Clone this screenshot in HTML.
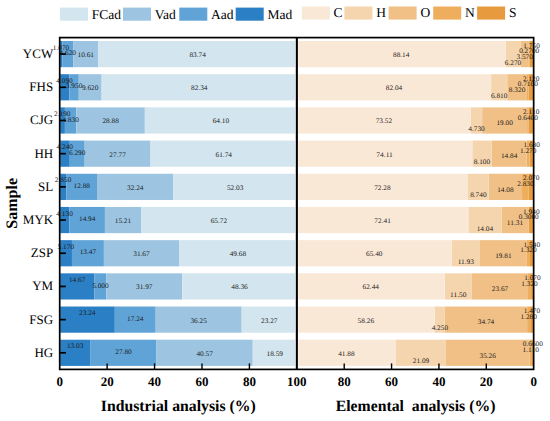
<!DOCTYPE html>
<html><head><meta charset="utf-8"><style>
html,body{margin:0;padding:0;background:#fff;width:550px;height:421px;overflow:hidden;position:relative}
text{font-family:"Liberation Serif",serif;fill:#000;text-rendering:geometricPrecision}
.d{font-size:7.0px;text-anchor:middle;fill:#1a1a1a;text-rendering:geometricPrecision}
.yl{font-size:13px;text-anchor:end}
.xl{font-size:13px;font-weight:bold;text-anchor:middle;text-rendering:geometricPrecision}
.ti{font-size:15.75px;font-weight:bold;text-anchor:middle}
.lg{font-size:13.5px}
</style></head><body>
<svg width="550" height="421" viewBox="0 0 550 421" style="position:absolute;left:0;top:0;display:block">
<rect x="60.20" y="41.00" width="2.04" height="26.2" fill="#2b7fc4"/>
<rect x="62.24" y="41.00" width="10.96" height="26.2" fill="#60a3d7"/>
<rect x="73.19" y="41.00" width="25.16" height="26.2" fill="#9dc5e1"/>
<rect x="98.36" y="41.00" width="196.74" height="26.2" fill="#d3e5ee"/>
<rect x="529.51" y="41.00" width="3.64" height="26.2" fill="#e89b3e"/>
<rect x="528.87" y="41.00" width="0.64" height="26.2" fill="#eeae5e"/>
<rect x="520.41" y="41.00" width="8.45" height="26.2" fill="#f0c086"/>
<rect x="505.57" y="41.00" width="14.85" height="26.2" fill="#f5d5ae"/>
<rect x="298.35" y="41.00" width="207.22" height="26.2" fill="#fae8d7"/>
<rect x="60.20" y="74.19" width="9.20" height="26.2" fill="#2b7fc4"/>
<rect x="69.40" y="74.19" width="9.37" height="26.2" fill="#60a3d7"/>
<rect x="78.77" y="74.19" width="22.81" height="26.2" fill="#9dc5e1"/>
<rect x="101.58" y="74.19" width="193.52" height="26.2" fill="#d3e5ee"/>
<rect x="528.63" y="74.19" width="4.52" height="26.2" fill="#e89b3e"/>
<rect x="526.95" y="74.19" width="1.68" height="26.2" fill="#eeae5e"/>
<rect x="507.25" y="74.19" width="19.70" height="26.2" fill="#f0c086"/>
<rect x="491.12" y="74.19" width="16.13" height="26.2" fill="#f5d5ae"/>
<rect x="298.35" y="74.19" width="192.77" height="26.2" fill="#fae8d7"/>
<rect x="60.20" y="107.38" width="4.69" height="26.2" fill="#2b7fc4"/>
<rect x="64.89" y="107.38" width="11.45" height="26.2" fill="#60a3d7"/>
<rect x="76.35" y="107.38" width="68.49" height="26.2" fill="#9dc5e1"/>
<rect x="144.84" y="107.38" width="150.26" height="26.2" fill="#d3e5ee"/>
<rect x="528.65" y="107.38" width="4.50" height="26.2" fill="#e89b3e"/>
<rect x="527.14" y="107.38" width="1.52" height="26.2" fill="#eeae5e"/>
<rect x="482.15" y="107.38" width="44.99" height="26.2" fill="#f0c086"/>
<rect x="470.95" y="107.38" width="11.20" height="26.2" fill="#f5d5ae"/>
<rect x="298.35" y="107.38" width="172.60" height="26.2" fill="#fae8d7"/>
<rect x="60.20" y="140.57" width="9.56" height="26.2" fill="#2b7fc4"/>
<rect x="69.76" y="140.57" width="14.92" height="26.2" fill="#60a3d7"/>
<rect x="84.67" y="140.57" width="65.86" height="26.2" fill="#9dc5e1"/>
<rect x="150.53" y="140.57" width="144.57" height="26.2" fill="#d3e5ee"/>
<rect x="529.67" y="140.57" width="3.48" height="26.2" fill="#e89b3e"/>
<rect x="526.66" y="140.57" width="3.01" height="26.2" fill="#eeae5e"/>
<rect x="491.52" y="140.57" width="35.14" height="26.2" fill="#f0c086"/>
<rect x="472.34" y="140.57" width="19.18" height="26.2" fill="#f5d5ae"/>
<rect x="298.35" y="140.57" width="173.99" height="26.2" fill="#fae8d7"/>
<rect x="60.20" y="173.76" width="6.26" height="26.2" fill="#2b7fc4"/>
<rect x="66.46" y="173.76" width="30.54" height="26.2" fill="#60a3d7"/>
<rect x="97.00" y="173.76" width="76.46" height="26.2" fill="#9dc5e1"/>
<rect x="173.46" y="173.76" width="121.64" height="26.2" fill="#d3e5ee"/>
<rect x="528.75" y="173.76" width="4.40" height="26.2" fill="#e89b3e"/>
<rect x="522.05" y="173.76" width="6.70" height="26.2" fill="#eeae5e"/>
<rect x="488.71" y="173.76" width="33.34" height="26.2" fill="#f0c086"/>
<rect x="468.01" y="173.76" width="20.70" height="26.2" fill="#f5d5ae"/>
<rect x="298.35" y="173.76" width="169.66" height="26.2" fill="#fae8d7"/>
<rect x="60.20" y="206.95" width="9.29" height="26.2" fill="#2b7fc4"/>
<rect x="69.49" y="206.95" width="35.43" height="26.2" fill="#60a3d7"/>
<rect x="104.92" y="206.95" width="36.07" height="26.2" fill="#9dc5e1"/>
<rect x="141.00" y="206.95" width="154.10" height="26.2" fill="#d3e5ee"/>
<rect x="529.06" y="206.95" width="4.09" height="26.2" fill="#e89b3e"/>
<rect x="528.35" y="206.95" width="0.71" height="26.2" fill="#eeae5e"/>
<rect x="501.56" y="206.95" width="26.78" height="26.2" fill="#f0c086"/>
<rect x="468.32" y="206.95" width="33.25" height="26.2" fill="#f5d5ae"/>
<rect x="298.35" y="206.95" width="169.97" height="26.2" fill="#fae8d7"/>
<rect x="60.20" y="240.14" width="11.76" height="26.2" fill="#2b7fc4"/>
<rect x="71.96" y="240.14" width="31.94" height="26.2" fill="#60a3d7"/>
<rect x="103.90" y="240.14" width="75.11" height="26.2" fill="#9dc5e1"/>
<rect x="179.01" y="240.14" width="116.09" height="26.2" fill="#d3e5ee"/>
<rect x="530.00" y="240.14" width="3.15" height="26.2" fill="#e89b3e"/>
<rect x="526.88" y="240.14" width="3.13" height="26.2" fill="#eeae5e"/>
<rect x="479.97" y="240.14" width="46.91" height="26.2" fill="#f0c086"/>
<rect x="451.72" y="240.14" width="28.25" height="26.2" fill="#f5d5ae"/>
<rect x="298.35" y="240.14" width="153.37" height="26.2" fill="#fae8d7"/>
<rect x="60.20" y="273.33" width="34.29" height="26.2" fill="#2b7fc4"/>
<rect x="94.49" y="273.33" width="11.86" height="26.2" fill="#60a3d7"/>
<rect x="106.35" y="273.33" width="75.82" height="26.2" fill="#9dc5e1"/>
<rect x="182.16" y="273.33" width="112.94" height="26.2" fill="#d3e5ee"/>
<rect x="531.12" y="273.33" width="2.03" height="26.2" fill="#e89b3e"/>
<rect x="527.99" y="273.33" width="3.13" height="26.2" fill="#eeae5e"/>
<rect x="471.94" y="273.33" width="56.05" height="26.2" fill="#f0c086"/>
<rect x="444.71" y="273.33" width="27.23" height="26.2" fill="#f5d5ae"/>
<rect x="298.35" y="273.33" width="146.36" height="26.2" fill="#fae8d7"/>
<rect x="60.20" y="306.52" width="54.61" height="26.2" fill="#2b7fc4"/>
<rect x="114.81" y="306.52" width="40.88" height="26.2" fill="#60a3d7"/>
<rect x="155.70" y="306.52" width="85.97" height="26.2" fill="#9dc5e1"/>
<rect x="241.67" y="306.52" width="53.43" height="26.2" fill="#d3e5ee"/>
<rect x="530.17" y="306.52" width="2.98" height="26.2" fill="#e89b3e"/>
<rect x="527.14" y="306.52" width="3.03" height="26.2" fill="#eeae5e"/>
<rect x="444.87" y="306.52" width="82.26" height="26.2" fill="#f0c086"/>
<rect x="434.81" y="306.52" width="10.06" height="26.2" fill="#f5d5ae"/>
<rect x="298.35" y="306.52" width="136.46" height="26.2" fill="#fae8d7"/>
<rect x="60.20" y="339.71" width="30.40" height="26.2" fill="#2b7fc4"/>
<rect x="90.60" y="339.71" width="65.93" height="26.2" fill="#60a3d7"/>
<rect x="156.53" y="339.71" width="96.21" height="26.2" fill="#9dc5e1"/>
<rect x="252.74" y="339.71" width="42.36" height="26.2" fill="#d3e5ee"/>
<rect x="532.09" y="339.71" width="1.06" height="26.2" fill="#e89b3e"/>
<rect x="529.46" y="339.71" width="2.63" height="26.2" fill="#eeae5e"/>
<rect x="445.96" y="339.71" width="83.50" height="26.2" fill="#f0c086"/>
<rect x="396.02" y="339.71" width="49.94" height="26.2" fill="#f5d5ae"/>
<rect x="298.35" y="339.71" width="97.67" height="26.2" fill="#fae8d7"/>
<text x="60.97" y="49.61" class="d" textLength="16.43" lengthAdjust="spacingAndGlyphs">1.070</text>
<text x="67.72" y="55.21" class="d" textLength="16.43" lengthAdjust="spacingAndGlyphs">4.620</text>
<text x="85.77" y="57.11" class="d" textLength="16.43" lengthAdjust="spacingAndGlyphs">10.61</text>
<text x="197.65" y="57.01" class="d" textLength="16.43" lengthAdjust="spacingAndGlyphs">83.74</text>
<text x="531.58" y="47.61" class="d" textLength="16.43" lengthAdjust="spacingAndGlyphs">1.750</text>
<text x="529.19" y="53.21" class="d" textLength="20.07" lengthAdjust="spacingAndGlyphs">0.2700</text>
<text x="524.64" y="58.91" class="d" textLength="16.43" lengthAdjust="spacingAndGlyphs">3.570</text>
<text x="512.99" y="64.61" class="d" textLength="16.43" lengthAdjust="spacingAndGlyphs">6.270</text>
<text x="401.21" y="57.01" class="d" textLength="16.43" lengthAdjust="spacingAndGlyphs">88.14</text>
<text x="64.55" y="82.80" class="d" textLength="16.43" lengthAdjust="spacingAndGlyphs">4.090</text>
<text x="74.08" y="88.40" class="d" textLength="16.43" lengthAdjust="spacingAndGlyphs">3.950</text>
<text x="90.17" y="90.30" class="d" textLength="16.43" lengthAdjust="spacingAndGlyphs">9.620</text>
<text x="199.22" y="90.20" class="d" textLength="16.43" lengthAdjust="spacingAndGlyphs">82.34</text>
<text x="531.14" y="80.80" class="d" textLength="16.43" lengthAdjust="spacingAndGlyphs">2.120</text>
<text x="527.79" y="86.40" class="d" textLength="20.07" lengthAdjust="spacingAndGlyphs">0.7100</text>
<text x="517.10" y="92.10" class="d" textLength="16.43" lengthAdjust="spacingAndGlyphs">8.320</text>
<text x="499.18" y="97.80" class="d" textLength="16.43" lengthAdjust="spacingAndGlyphs">6.810</text>
<text x="393.99" y="90.20" class="d" textLength="16.43" lengthAdjust="spacingAndGlyphs">82.04</text>
<text x="62.30" y="115.99" class="d" textLength="16.43" lengthAdjust="spacingAndGlyphs">2.190</text>
<text x="70.62" y="121.59" class="d" textLength="16.43" lengthAdjust="spacingAndGlyphs">4.830</text>
<text x="110.59" y="123.49" class="d" textLength="16.43" lengthAdjust="spacingAndGlyphs">28.88</text>
<text x="220.84" y="123.39" class="d" textLength="16.43" lengthAdjust="spacingAndGlyphs">64.10</text>
<text x="531.15" y="113.99" class="d" textLength="16.43" lengthAdjust="spacingAndGlyphs">2.110</text>
<text x="527.90" y="119.59" class="d" textLength="20.07" lengthAdjust="spacingAndGlyphs">0.6400</text>
<text x="504.64" y="125.29" class="d" textLength="16.43" lengthAdjust="spacingAndGlyphs">19.00</text>
<text x="476.55" y="130.99" class="d" textLength="16.43" lengthAdjust="spacingAndGlyphs">4.730</text>
<text x="383.90" y="123.39" class="d" textLength="16.43" lengthAdjust="spacingAndGlyphs">73.52</text>
<text x="64.73" y="149.18" class="d" textLength="16.43" lengthAdjust="spacingAndGlyphs">4.240</text>
<text x="77.21" y="154.78" class="d" textLength="16.43" lengthAdjust="spacingAndGlyphs">6.290</text>
<text x="117.60" y="156.68" class="d" textLength="16.43" lengthAdjust="spacingAndGlyphs">27.77</text>
<text x="223.74" y="156.58" class="d" textLength="16.43" lengthAdjust="spacingAndGlyphs">61.74</text>
<text x="531.66" y="147.18" class="d" textLength="16.43" lengthAdjust="spacingAndGlyphs">1.680</text>
<text x="528.17" y="152.78" class="d" textLength="16.43" lengthAdjust="spacingAndGlyphs">1.270</text>
<text x="509.09" y="158.48" class="d" textLength="16.43" lengthAdjust="spacingAndGlyphs">14.84</text>
<text x="481.93" y="164.18" class="d" textLength="16.43" lengthAdjust="spacingAndGlyphs">8.100</text>
<text x="384.60" y="156.58" class="d" textLength="16.43" lengthAdjust="spacingAndGlyphs">74.11</text>
<text x="63.08" y="182.37" class="d" textLength="16.43" lengthAdjust="spacingAndGlyphs">2.850</text>
<text x="81.73" y="187.97" class="d" textLength="16.43" lengthAdjust="spacingAndGlyphs">12.88</text>
<text x="135.23" y="189.87" class="d" textLength="16.43" lengthAdjust="spacingAndGlyphs">32.24</text>
<text x="235.16" y="189.77" class="d" textLength="16.43" lengthAdjust="spacingAndGlyphs">52.03</text>
<text x="531.20" y="180.37" class="d" textLength="16.43" lengthAdjust="spacingAndGlyphs">2.070</text>
<text x="525.40" y="185.97" class="d" textLength="16.43" lengthAdjust="spacingAndGlyphs">2.830</text>
<text x="505.38" y="191.67" class="d" textLength="16.43" lengthAdjust="spacingAndGlyphs">14.08</text>
<text x="478.36" y="197.37" class="d" textLength="16.43" lengthAdjust="spacingAndGlyphs">8.740</text>
<text x="382.43" y="189.77" class="d" textLength="16.43" lengthAdjust="spacingAndGlyphs">72.28</text>
<text x="64.60" y="215.56" class="d" textLength="16.43" lengthAdjust="spacingAndGlyphs">4.130</text>
<text x="87.21" y="221.16" class="d" textLength="16.43" lengthAdjust="spacingAndGlyphs">14.94</text>
<text x="122.96" y="223.06" class="d" textLength="16.43" lengthAdjust="spacingAndGlyphs">15.21</text>
<text x="218.92" y="222.96" class="d" textLength="16.43" lengthAdjust="spacingAndGlyphs">65.72</text>
<text x="531.35" y="213.56" class="d" textLength="16.43" lengthAdjust="spacingAndGlyphs">1.940</text>
<text x="528.70" y="219.16" class="d" textLength="20.07" lengthAdjust="spacingAndGlyphs">0.3000</text>
<text x="514.95" y="224.86" class="d" textLength="16.43" lengthAdjust="spacingAndGlyphs">11.31</text>
<text x="484.94" y="230.56" class="d" textLength="16.43" lengthAdjust="spacingAndGlyphs">14.04</text>
<text x="382.58" y="222.96" class="d" textLength="16.43" lengthAdjust="spacingAndGlyphs">72.41</text>
<text x="65.83" y="248.75" class="d" textLength="16.43" lengthAdjust="spacingAndGlyphs">5.170</text>
<text x="87.93" y="254.35" class="d" textLength="16.43" lengthAdjust="spacingAndGlyphs">13.47</text>
<text x="141.46" y="256.25" class="d" textLength="16.43" lengthAdjust="spacingAndGlyphs">31.67</text>
<text x="237.92" y="256.15" class="d" textLength="16.43" lengthAdjust="spacingAndGlyphs">49.68</text>
<text x="531.83" y="246.75" class="d" textLength="16.43" lengthAdjust="spacingAndGlyphs">1.540</text>
<text x="528.44" y="252.35" class="d" textLength="16.43" lengthAdjust="spacingAndGlyphs">1.320</text>
<text x="503.42" y="258.05" class="d" textLength="16.43" lengthAdjust="spacingAndGlyphs">19.81</text>
<text x="465.84" y="263.75" class="d" textLength="16.43" lengthAdjust="spacingAndGlyphs">11.93</text>
<text x="374.28" y="256.15" class="d" textLength="16.43" lengthAdjust="spacingAndGlyphs">65.40</text>
<text x="77.09" y="281.94" class="d" textLength="16.43" lengthAdjust="spacingAndGlyphs">14.67</text>
<text x="100.42" y="287.54" class="d" textLength="16.43" lengthAdjust="spacingAndGlyphs">5.000</text>
<text x="144.26" y="289.44" class="d" textLength="16.43" lengthAdjust="spacingAndGlyphs">31.97</text>
<text x="239.51" y="289.34" class="d" textLength="16.43" lengthAdjust="spacingAndGlyphs">48.36</text>
<text x="532.38" y="279.94" class="d" textLength="16.43" lengthAdjust="spacingAndGlyphs">1.070</text>
<text x="529.55" y="285.54" class="d" textLength="16.43" lengthAdjust="spacingAndGlyphs">1.320</text>
<text x="499.97" y="291.24" class="d" textLength="16.43" lengthAdjust="spacingAndGlyphs">23.67</text>
<text x="458.32" y="296.94" class="d" textLength="16.43" lengthAdjust="spacingAndGlyphs">11.50</text>
<text x="370.78" y="289.34" class="d" textLength="16.43" lengthAdjust="spacingAndGlyphs">62.44</text>
<text x="87.26" y="315.13" class="d" textLength="16.43" lengthAdjust="spacingAndGlyphs">23.24</text>
<text x="135.26" y="320.73" class="d" textLength="16.43" lengthAdjust="spacingAndGlyphs">17.24</text>
<text x="198.68" y="322.63" class="d" textLength="16.43" lengthAdjust="spacingAndGlyphs">36.25</text>
<text x="269.26" y="322.53" class="d" textLength="16.43" lengthAdjust="spacingAndGlyphs">23.27</text>
<text x="531.91" y="313.13" class="d" textLength="16.43" lengthAdjust="spacingAndGlyphs">1.470</text>
<text x="528.65" y="318.73" class="d" textLength="16.43" lengthAdjust="spacingAndGlyphs">1.280</text>
<text x="486.01" y="324.43" class="d" textLength="16.43" lengthAdjust="spacingAndGlyphs">34.74</text>
<text x="439.84" y="330.13" class="d" textLength="16.43" lengthAdjust="spacingAndGlyphs">4.250</text>
<text x="365.83" y="322.53" class="d" textLength="16.43" lengthAdjust="spacingAndGlyphs">58.26</text>
<text x="75.15" y="348.32" class="d" textLength="16.43" lengthAdjust="spacingAndGlyphs">13.03</text>
<text x="123.56" y="353.92" class="d" textLength="16.43" lengthAdjust="spacingAndGlyphs">27.80</text>
<text x="204.63" y="355.82" class="d" textLength="16.43" lengthAdjust="spacingAndGlyphs">40.57</text>
<text x="274.78" y="355.72" class="d" textLength="16.43" lengthAdjust="spacingAndGlyphs">18.59</text>
<text x="532.87" y="346.32" class="d" textLength="20.07" lengthAdjust="spacingAndGlyphs">0.6600</text>
<text x="530.77" y="351.92" class="d" textLength="16.43" lengthAdjust="spacingAndGlyphs">1.110</text>
<text x="487.71" y="357.62" class="d" textLength="16.43" lengthAdjust="spacingAndGlyphs">35.26</text>
<text x="420.99" y="363.32" class="d" textLength="16.43" lengthAdjust="spacingAndGlyphs">21.09</text>
<text x="346.44" y="355.72" class="d" textLength="16.43" lengthAdjust="spacingAndGlyphs">41.88</text>
<rect x="59.7" y="37.6" width="473.95" height="331.80" fill="none" stroke="#000" stroke-width="1.7"/>
<line x1="296.85" y1="37.6" x2="296.85" y2="369.4" stroke="#000" stroke-width="2.1"/>
<line x1="59.7" y1="54.10" x2="65.90" y2="54.10" stroke="#000" stroke-width="1.7"/>
<text x="53.20" y="58.00" class="yl">YCW</text>
<line x1="59.7" y1="87.29" x2="65.90" y2="87.29" stroke="#000" stroke-width="1.7"/>
<text x="53.20" y="91.19" class="yl">FHS</text>
<line x1="59.7" y1="120.48" x2="65.90" y2="120.48" stroke="#000" stroke-width="1.7"/>
<text x="53.20" y="124.38" class="yl">CJG</text>
<line x1="59.7" y1="153.67" x2="65.90" y2="153.67" stroke="#000" stroke-width="1.7"/>
<text x="53.20" y="157.57" class="yl">HH</text>
<line x1="59.7" y1="186.86" x2="65.90" y2="186.86" stroke="#000" stroke-width="1.7"/>
<text x="53.20" y="190.76" class="yl">SL</text>
<line x1="59.7" y1="220.05" x2="65.90" y2="220.05" stroke="#000" stroke-width="1.7"/>
<text x="53.20" y="223.95" class="yl">MYK</text>
<line x1="59.7" y1="253.24" x2="65.90" y2="253.24" stroke="#000" stroke-width="1.7"/>
<text x="53.20" y="257.14" class="yl">ZSP</text>
<line x1="59.7" y1="286.43" x2="65.90" y2="286.43" stroke="#000" stroke-width="1.7"/>
<text x="53.20" y="290.33" class="yl">YM</text>
<line x1="59.7" y1="319.62" x2="65.90" y2="319.62" stroke="#000" stroke-width="1.7"/>
<text x="53.20" y="323.52" class="yl">FSG</text>
<line x1="59.7" y1="352.81" x2="65.90" y2="352.81" stroke="#000" stroke-width="1.7"/>
<text x="53.20" y="356.71" class="yl">HG</text>
<text x="59.70" y="386.2" class="xl">0</text>
<text x="533.65" y="386.2" class="xl">0</text>
<line x1="107.13" y1="369.4" x2="107.13" y2="363.40" stroke="#000" stroke-width="1.4"/>
<text x="107.13" y="386.2" class="xl">20</text>
<line x1="486.29" y1="369.4" x2="486.29" y2="363.40" stroke="#000" stroke-width="1.4"/>
<text x="486.29" y="386.2" class="xl">20</text>
<line x1="154.56" y1="369.4" x2="154.56" y2="363.40" stroke="#000" stroke-width="1.4"/>
<text x="154.56" y="386.2" class="xl">40</text>
<line x1="438.93" y1="369.4" x2="438.93" y2="363.40" stroke="#000" stroke-width="1.4"/>
<text x="438.93" y="386.2" class="xl">40</text>
<line x1="201.99" y1="369.4" x2="201.99" y2="363.40" stroke="#000" stroke-width="1.4"/>
<text x="201.99" y="386.2" class="xl">60</text>
<line x1="391.57" y1="369.4" x2="391.57" y2="363.40" stroke="#000" stroke-width="1.4"/>
<text x="391.57" y="386.2" class="xl">60</text>
<line x1="249.42" y1="369.4" x2="249.42" y2="363.40" stroke="#000" stroke-width="1.4"/>
<text x="249.42" y="386.2" class="xl">80</text>
<line x1="344.21" y1="369.4" x2="344.21" y2="363.40" stroke="#000" stroke-width="1.4"/>
<text x="344.21" y="386.2" class="xl">80</text>
<text x="296.85" y="386.2" class="xl">100</text>
<text x="178.28" y="410.8" class="ti">Industrial analysis (%)</text>
<text x="415.55" y="410.8" class="ti" xml:space="preserve">Elemental  analysis (%)</text>
<text transform="translate(16.9,203.3) rotate(-90)" x="0" y="0" class="ti" style="font-size:16px">Sample</text>
<rect x="60.0" y="7.60" width="28" height="13.1" fill="#d3e5ee"/>
<text x="91.80" y="18.70" class="lg">FCad</text>
<rect x="123.0" y="7.60" width="28" height="13.1" fill="#9dc5e1"/>
<text x="154.80" y="18.70" class="lg">Vad</text>
<rect x="179.3" y="7.60" width="28" height="13.1" fill="#60a3d7"/>
<text x="211.10" y="18.70" class="lg">Aad</text>
<rect x="235.7" y="7.60" width="28" height="13.1" fill="#2b7fc4"/>
<text x="267.50" y="18.70" class="lg">Mad</text>
<rect x="301.8" y="6.50" width="28" height="13.1" fill="#fae8d7"/>
<text x="333.60" y="17.20" class="lg">C</text>
<rect x="344.4" y="6.50" width="28" height="13.1" fill="#f5d5ae"/>
<text x="376.20" y="17.20" class="lg">H</text>
<rect x="388.6" y="6.50" width="28" height="13.1" fill="#f0c086"/>
<text x="420.40" y="17.20" class="lg">O</text>
<rect x="433.2" y="6.50" width="28" height="13.1" fill="#eeae5e"/>
<text x="465.00" y="17.20" class="lg">N</text>
<rect x="477.1" y="6.50" width="28" height="13.1" fill="#e89b3e"/>
<text x="508.90" y="17.20" class="lg">S</text>
</svg>
</body></html>
